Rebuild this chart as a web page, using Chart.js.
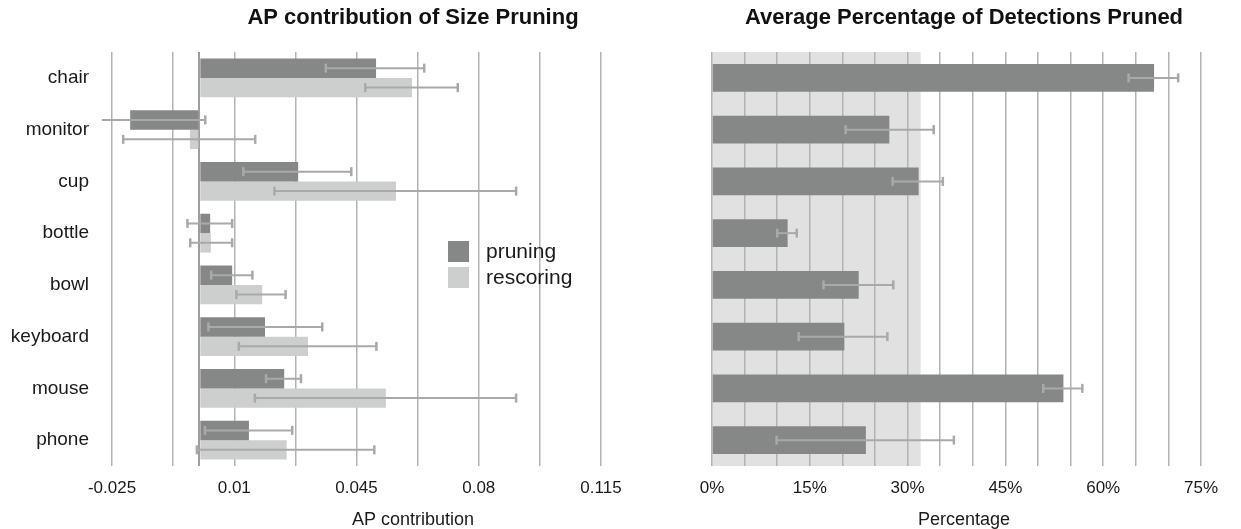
<!DOCTYPE html>
<html>
<head>
<meta charset="utf-8">
<script src="https://cdn.jsdelivr.net/npm/chart.js@4.4.1/dist/chart.umd.min.js"></script>
<style>
html,body{margin:0;padding:0;background:#fff;}
#wrap{position:relative;width:1241px;height:529px;overflow:hidden;background:#fff;}
canvas{position:absolute;top:0;}
#c1{left:0;}
#c2{left:687px;}
</style>
</head>
<body>
<div id="wrap">
<canvas id="c1" width="826" height="529"></canvas>
<canvas id="c2" width="554" height="529"></canvas>
</div>
<script>
// ---------- data ----------
const categories = ['chair', 'monitor', 'cup', 'bottle', 'bowl', 'keyboard', 'mouse', 'phone'];

const apPruning      = [0.0506, -0.0198, 0.0283, 0.0031, 0.0094, 0.0188, 0.0243, 0.0142];
const apPruningLow   = [0.0362, -0.0279, 0.0126, -0.0034, 0.0034, 0.0026, 0.0191, 0.0016];
const apPruningHigh  = [0.0644, 0.0017, 0.0435, 0.0094, 0.0152, 0.0352, 0.0291, 0.0266];

const apRescoring     = [0.0609, -0.0027, 0.0563, 0.0033, 0.0180, 0.0311, 0.0534, 0.0250];
const apRescoringLow  = [0.0475, -0.0218, 0.0215, -0.0026, 0.0106, 0.0113, 0.0159, -0.0007];
const apRescoringHigh = [0.0740, 0.0160, 0.0907, 0.0094, 0.0247, 0.0507, 0.0907, 0.0501];

const pctPruned     = [67.8, 27.2, 31.7, 11.6, 22.5, 20.3, 53.9, 23.6];
const pctPrunedLow  = [63.9, 20.5, 27.7, 10.0, 17.1, 13.3, 50.8, 9.9];
const pctPrunedHigh = [71.5, 34.0, 35.4, 13.0, 27.8, 26.9, 56.8, 37.1];

const apTickLabels  = ['-0.025', '0.01', '0.045', '0.08', '0.115'];
const pctTickLabels = ['0%', '15%', '30%', '45%', '60%', '75%'];
const shadedBandEnd = 32;

// ---------- styles ----------
Chart.defaults.font.family = "'Liberation Sans', Arial, Helvetica, sans-serif";
Chart.defaults.color = '#1a1a1a';
const darkBar = '#868887';
const lightBar = '#cdcfce';
const gridColor = '#b3b3b3';
const zeroColor = '#9e9e9e';
const errColor = '#a9a9a9';

const errorBarPlugin = {
  id: 'errorBars',
  afterDatasetsDraw(chart, args, opts) {
    const ctx = chart.ctx;
    const xs = chart.scales.x;
    chart.data.datasets.forEach((ds, di) => {
      if (!ds.errLow) return;
      const meta = chart.getDatasetMeta(di);
      meta.data.forEach((bar, i) => {
        const lo = ds.errLow[i], hi = ds.errHigh[i];
        const x1 = xs.getPixelForValue(lo), x2 = xs.getPixelForValue(hi);
        const y = bar.y;
        ctx.save();
        ctx.strokeStyle = opts.color;
        ctx.lineWidth = opts.width;
        ctx.beginPath(); ctx.moveTo(x1, y); ctx.lineTo(x2, y); ctx.stroke();
        ctx.lineWidth = opts.capWidth;
        [[lo, x1], [hi, x2]].forEach(([v, x]) => {
          if (v < xs.min - 1e-9 || v > xs.max + 1e-9) return;
          ctx.beginPath(); ctx.moveTo(x, y - opts.cap / 2); ctx.lineTo(x, y + opts.cap / 2); ctx.stroke();
        });
        ctx.restore();
      });
    });
  }
};

const inlineLegendPlugin = {
  id: 'inlineLegend',
  afterDraw(chart, args, opts) {
    if (!opts.display) return;
    const ctx = chart.ctx;
    ctx.save();
    chart.data.datasets.forEach((ds, i) => {
      const y = opts.y + i * opts.rowH;
      ctx.fillStyle = ds.backgroundColor;
      ctx.fillRect(opts.x, y, opts.box, opts.box);
      ctx.fillStyle = opts.color;
      ctx.font = opts.size + "px 'Liberation Sans', Arial, sans-serif";
      ctx.textBaseline = 'middle';
      ctx.textAlign = 'left';
      ctx.fillText(ds.label, opts.x + opts.textGap, y + opts.box / 2 + 1);
    });
    ctx.restore();
  }
};

const bandPlugin = {
  id: 'band',
  beforeDraw(chart, args, opts) {
    if (!opts.display) return;
    const xs = chart.scales.x, a = chart.chartArea;
    const x0 = xs.getPixelForValue(opts.from), x1 = xs.getPixelForValue(opts.to);
    const ctx = chart.ctx;
    ctx.save();
    ctx.fillStyle = opts.color;
    ctx.fillRect(x0, a.top, x1 - x0, a.bottom - a.top);
    ctx.restore();
  }
};

const dummyAxis = (w, pos) => ({
  type: 'linear', position: pos, display: true,
  grid: { display: false, drawTicks: false }, border: { display: false },
  ticks: { display: false },
  afterFit: s => { s.width = w; }
});

// ---------- left chart ----------
new Chart(document.getElementById('c1'), {
  type: 'bar',
  data: {
    labels: categories,
    datasets: [
      { label: 'pruning', data: apPruning, errLow: apPruningLow, errHigh: apPruningHigh,
        backgroundColor: darkBar, categoryPercentage: 0.75, barPercentage: 1.0 },
      { label: 'rescoring', data: apRescoring, errLow: apRescoringLow, errHigh: apRescoringHigh,
        backgroundColor: lightBar, categoryPercentage: 0.75, barPercentage: 1.0 }
    ]
  },
  options: {
    indexAxis: 'y',
    responsive: false,
    animation: false,
    layout: { padding: 0 },
    scales: {
      x: {
        min: -0.025, max: 0.115,
        grid: {
          drawTicks: false,
          color: c => (c.tick && Math.abs(c.tick.value) < 1e-9) ? zeroColor : gridColor,
          lineWidth: c => (c.tick && Math.abs(c.tick.value) < 1e-9) ? 2 : 1.5
        },
        border: { display: false },
        ticks: {
          stepSize: 0.0175, autoSkip: false, maxRotation: 0, padding: 12,
          font: { size: 17 }, color: '#1a1a1a',
          callback: v => {
            const t = apTickLabels.find(s => Math.abs(parseFloat(s) - v) < 1e-7);
            return t === undefined ? '' : t;
          }
        },
        afterBuildTicks: s => {
          if (!s.ticks.some(t => Math.abs(t.value) < 1e-9)) s.ticks.push({ value: 0 });
          s.ticks.sort((a, b) => a.value - b.value);
        },
        afterFit: s => { s.height = 41.4; }
      },
      y: {
        grid: { display: false, drawTicks: false },
        border: { display: false },
        ticks: { padding: 23, font: { size: 19 }, color: '#1a1a1a' },
        afterFit: s => { s.width = 112; }
      },
      yR: dummyAxis(225, 'right')
    },
    plugins: {
      legend: { display: false },
      tooltip: { enabled: false },
      title: {
        display: true, text: 'AP contribution of Size Pruning',
        font: { size: 22, weight: 'bold' }, color: '#111',
        padding: { top: 5, bottom: 20.6 }
      },
      subtitle: {
        display: true, text: 'AP contribution', position: 'bottom',
        font: { size: 18, weight: 'normal' }, color: '#1a1a1a',
        padding: { top: 2, bottom: -2 }
      },
      errorBars: { color: errColor, width: 2, capWidth: 2.5, cap: 9 },
      inlineLegend: { display: true, x: 448, y: 241, box: 21, rowH: 26, textGap: 38, size: 21, color: '#1a1a1a' }
    }
  },
  plugins: [errorBarPlugin, inlineLegendPlugin]
});

// ---------- right chart ----------
new Chart(document.getElementById('c2'), {
  type: 'bar',
  data: {
    labels: categories,
    datasets: [
      { label: 'pruned', data: pctPruned, errLow: pctPrunedLow, errHigh: pctPrunedHigh,
        backgroundColor: darkBar, categoryPercentage: 0.54, barPercentage: 1.0 }
    ]
  },
  options: {
    indexAxis: 'y',
    responsive: false,
    animation: false,
    layout: { padding: 0 },
    scales: {
      x: {
        min: 0, max: 75,
        grid: { drawTicks: false, color: gridColor, lineWidth: 1.5 },
        border: { display: false },
        ticks: {
          stepSize: 5, autoSkip: false, maxRotation: 0, padding: 12,
          font: { size: 17 }, color: '#1a1a1a',
          callback: v => (Math.abs(v % 15) < 1e-9 ? pctTickLabels[Math.round(v / 15)] : '')
        },
        afterFit: s => { s.height = 41.4; }
      },
      y: {
        display: true,
        grid: { display: false, drawTicks: false },
        border: { display: false },
        ticks: { display: false },
        afterFit: s => { s.width = 25; }
      },
      yR: dummyAxis(40, 'right')
    },
    plugins: {
      legend: { display: false },
      tooltip: { enabled: false },
      title: {
        display: true, text: 'Average Percentage of Detections Pruned',
        font: { size: 22, weight: 'bold' }, color: '#111',
        padding: { top: 5, bottom: 20.6 }
      },
      subtitle: {
        display: true, text: 'Percentage', position: 'bottom',
        font: { size: 18, weight: 'normal' }, color: '#1a1a1a',
        padding: { top: 2, bottom: -2 }
      },
      errorBars: { color: errColor, width: 2, capWidth: 2.5, cap: 9 },
      band: { display: true, from: 0, to: shadedBandEnd, color: '#e1e1e1' }
    }
  },
  plugins: [errorBarPlugin, bandPlugin]
});
</script>
</body>
</html>
